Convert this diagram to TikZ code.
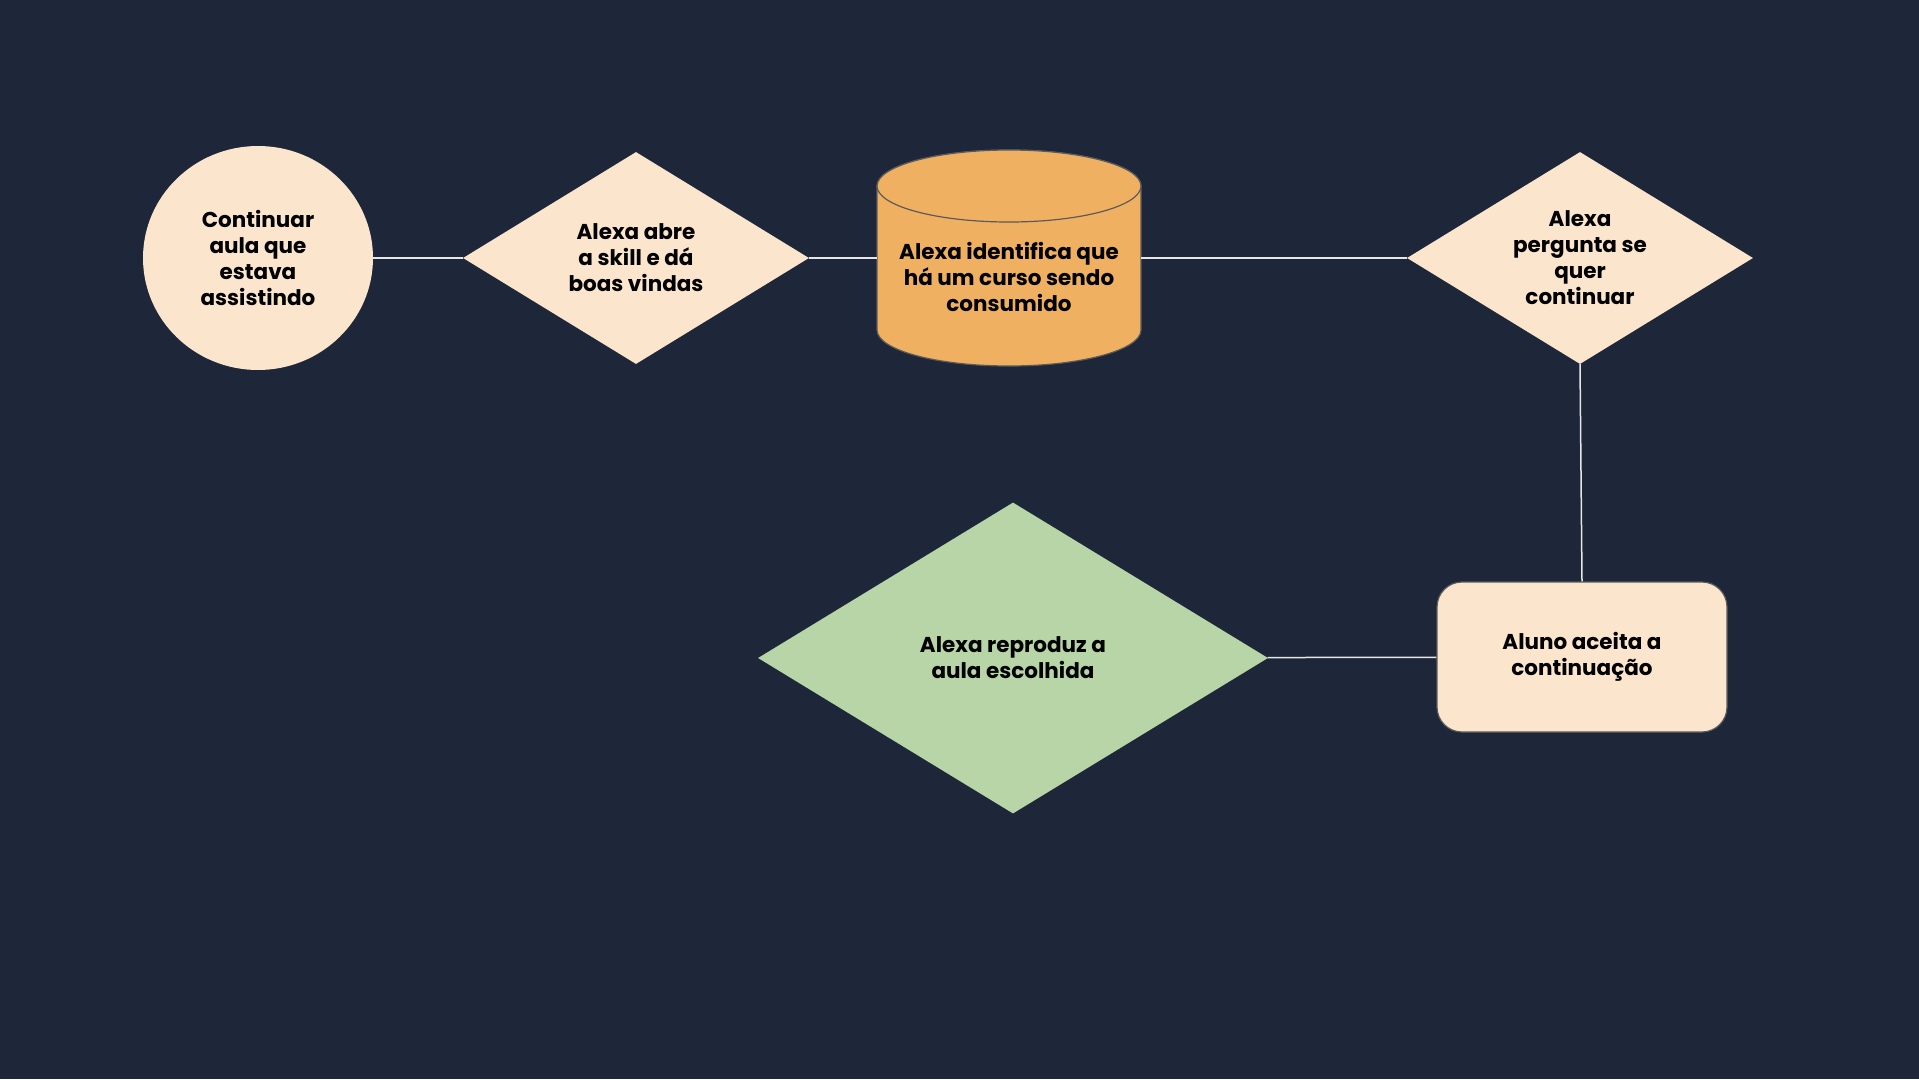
\documentclass[tikz,border=0pt]{standalone}
\usepackage{fontspec}
\setmainfont{Poppins}
\usepackage{xcolor}
\usetikzlibrary{shapes.geometric}
\definecolor{bgnavy}{HTML}{1E2739}
\definecolor{peach}{HTML}{FBE5CC}
\definecolor{laranja}{HTML}{F0B062}
\definecolor{verde}{HTML}{B7D5A6}
\definecolor{borda}{HTML}{5A5A5A}
\definecolor{linha}{HTML}{E6E6E6}

\begin{document}
\begin{tikzpicture}[x=1pt,y=-1pt,
  every node/.style={font=\fontsize{21.5}{26}\selectfont\bfseries,align=center,text=black,inner sep=0pt},
  inicio/.style={ellipse,fill=peach,minimum width=230,minimum height=224},
  decisao/.style={diamond,fill=peach,aspect=1.63,minimum width=346,minimum height=212},
  banco/.style={rectangle,minimum width=264,minimum height=216},
  cilindro/.style={fill=laranja,draw=borda,line width=1.2pt},
  passo/.style={rectangle,rounded corners=25,fill=peach,draw=borda,line width=1.2pt,
    minimum width=290,minimum height=150},
  fim/.style={diamond,fill=verde,aspect=1.64,minimum width=510,minimum height=311},
  liga/.style={draw=linha,line width=1.5pt}]
% fundo
\fill[bgnavy] (0,0) rectangle (1919,1079);
% linha de cima
\node[inicio] (inicio) at (258,258) {Continuar\\aula que\\estava\\assistindo};
\node[decisao] (abre) at (636,258) {Alexa abre\\a skill e dá\\boas vindas};
\node[banco] (curso) at (1009,258) {};
% cilindro desenhado a mao
\filldraw[cilindro] (877,186) -- (877,330)
  arc[start angle=180,end angle=360,x radius=132pt,y radius=36pt]
  -- (1141,186) arc[start angle=0,end angle=180,x radius=132pt,y radius=36pt] -- cycle;
\draw[cilindro] (1009,186) ellipse[x radius=132pt,y radius=36pt];
\node (cursotxt) at (1009,277) {Alexa identifica que\\há um curso sendo\\consumido};
\node[decisao] (pergunta) at (1580,258) {Alexa\\pergunta se\\quer\\continuar};
% linha de baixo
\node[passo] (aceita) at (1582,657) {Aluno aceita a\\continuação};
\node[fim] (reproduz) at (1013,658) {Alexa reproduz a\\aula escolhida};
% ligacoes
\draw[liga] (inicio) -- (abre);
\draw[liga] (abre) -- (curso);
\draw[liga] (curso) -- (pergunta);
\draw[liga] (pergunta.south) -- (aceita.north);
\draw[liga] (aceita) -- (reproduz);
\end{tikzpicture}
\end{document}
